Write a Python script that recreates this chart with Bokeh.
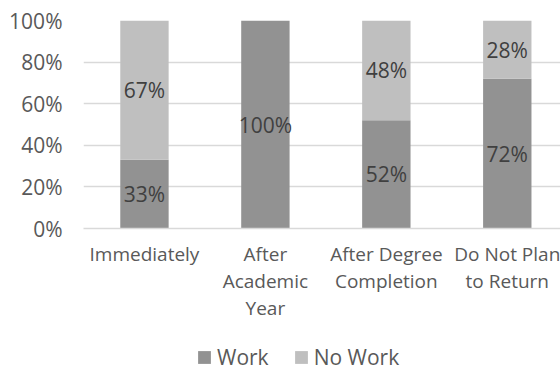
from bokeh.plotting import figure
from bokeh.layouts import column
from bokeh.models import (ColumnDataSource, Range1d, FixedTicker, NumeralTickFormatter,
                          Legend, LegendItem)
from bokeh.core.properties import value
from bokeh.embed import file_html
from bokeh.resources import INLINE

# Share of respondents by timing of return
categories = ["Immediately", "After\nAcademic\nYear", "After Degree\nCompletion", "Do Not Plan\nto Return"]
work = [0.33, 1.00, 0.52, 0.72]
no_work = [0.67, 0.00, 0.48, 0.28]
series = ["Work", "No Work"]
y_ticks = [0.0, 0.2, 0.4, 0.6, 0.8, 1.0]

FONT = "Open Sans"
DARK = "#929292"
LIGHT = "#bfbfbf"
TEXT = "#595959"
LABEL = "#404040"
colors = [DARK, LIGHT]

x = list(range(len(categories)))
source = ColumnDataSource(dict(x=x, Work=work, NoWork=no_work))

p = figure(width=560, height=343, output_backend="svg", toolbar_location=None,
           x_range=Range1d(-0.504, 3.44), y_range=Range1d(0, 1),
           min_border_left=83, min_border_right=0, min_border_top=20, min_border_bottom=115)
p.outline_line_color = None
p.background_fill_color = "white"
p.border_fill_color = "white"

p.vbar_stack(["Work", "NoWork"], x="x", width=0.4, source=source,
             color=colors, line_color=None)

# Data labels at the middle of each non-empty segment
lx, ly, lt = [], [], []
for i in x:
    if work[i] > 0:
        lx.append(i); ly.append(work[i] / 2); lt.append(f"{round(work[i] * 100)}%")
    if no_work[i] > 0:
        lx.append(i); ly.append(work[i] + no_work[i] / 2); lt.append(f"{round(no_work[i] * 100)}%")
p.text(x=lx, y=ly, text=lt, text_align="center", text_baseline="middle",
       text_font=value(FONT), text_font_size="21px", text_color=LABEL)

# Axes
p.yaxis.ticker = FixedTicker(ticks=y_ticks)
p.yaxis.formatter = NumeralTickFormatter(format="0%")
p.yaxis.axis_line_color = None
p.yaxis.major_tick_line_color = None
p.yaxis.minor_tick_line_color = None
p.yaxis.major_label_standoff = 15
p.yaxis.major_label_text_font = FONT
p.yaxis.major_label_text_font_size = "21px"
p.yaxis.major_label_text_color = TEXT

p.xaxis.ticker = FixedTicker(ticks=x)
p.xaxis.major_label_overrides = {i: c for i, c in zip(x, categories)}
p.xaxis.axis_line_color = "#d9d9d9"
p.xaxis.axis_line_width = 1.5
p.xaxis.major_tick_line_color = None
p.xaxis.minor_tick_line_color = None
p.xaxis.major_label_standoff = 6
p.xaxis.major_label_text_font = FONT
p.xaxis.major_label_text_font_size = "19px"
p.xaxis.major_label_text_color = TEXT
p.xaxis.major_label_text_line_height = 1.05

p.xgrid.grid_line_color = None
p.ygrid.grid_line_color = "#d9d9d9"
p.ygrid.grid_line_width = 1.5

# Legend strip underneath the chart; its swatch renderers sit outside the visible range
leg = figure(width=560, height=28, output_backend="svg", toolbar_location=None,
             x_axis_type=None, y_axis_type=None, x_range=Range1d(0, 1), y_range=Range1d(0, 1),
             min_border=0)
leg.outline_line_color = None
leg.grid.visible = False
swatches = [leg.vbar(x=[5], top=[0], width=0.1, color=c, line_color=None) for c in colors]
legend = Legend(items=[LegendItem(label=s, renderers=[r]) for s, r in zip(series, swatches)],
                orientation="horizontal", location=(113, 0),
                glyph_width=16, glyph_height=16, label_standoff=5, spacing=24,
                label_text_font=FONT, label_text_font_size="21px", label_text_color=TEXT,
                label_text_line_height=0.9,
                border_line_color=None, background_fill_alpha=0, padding=0, margin=0,
                label_height=16)
leg.add_layout(legend, "center")

open("out.html", "w").write(file_html(column(p, leg, spacing=0), INLINE))
